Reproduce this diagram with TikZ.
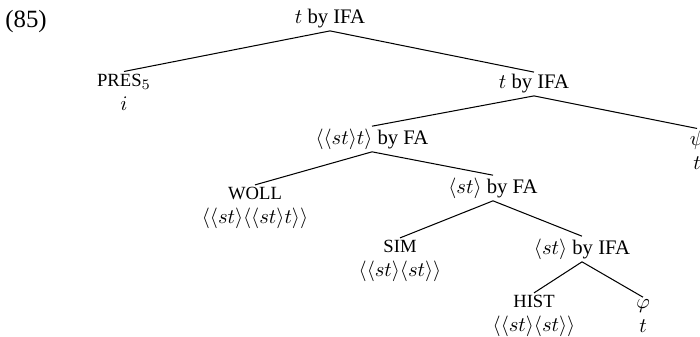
\documentclass[tikz,border=0pt]{standalone}
\usepackage{fontspec}
\setmainfont{Liberation Serif}
\usetikzlibrary{positioning}
\tikzset{
treenode/.style={
  inner sep=1pt,
  align=center,
  }
}
\tikzset{
treeline/.style={
  line width=0.5pt,
  }
}
\newcommand{\typ}[1]{\ensuremath{\langle #1\rangle}}
\newcommand{\lexname}[1]{{\small #1}}

\begin{document}
\begin{tikzpicture}[x=0.017cm,y=-0.017cm]
    \useasboundingbox (0,0) rectangle (700,336);
    % example number
    \node[font=\large] (exnum) at (26,22) {(85)};

    % top part
    \node[treenode] (root) at (330,19) {$t$ by IFA};
    \node[treenode] (pres) at (124,92) {\lexname{PRES}$_5$\\[-0.5pt]$i$};
    \node[treenode] (ifa1) at (534,84) {$t$ by IFA};
    \node[treenode] (psi) at (697,150) {$\psi$\\[-0.5pt]$t$};

    % middle part
    \node[treenode] (fa1) at (372,139) {\typ{\typ{st}t} by FA};
    \node[treenode] (woll) at (255,208) {\lexname{WOLL}\\[-0.5pt]\typ{\typ{st}\typ{\typ{st}t}}};
    \node[treenode] (fa2) at (493,188) {\typ{st} by FA};

    % bottom part
    \node[treenode] (sim) at (400,261) {\lexname{SIM}\\[-0.5pt]\typ{\typ{st}\typ{st}}};
    \node[treenode] (ifa2) at (582,249) {\typ{st} by IFA};
    \node[treenode] (hist) at (534,316) {\lexname{HIST}\\[-0.5pt]\typ{\typ{st}\typ{st}}};
    \node[treenode] (phi) at (643,316) {$\varphi$\\[-0.5pt]$t$};

    % tree edges
    \draw[treeline] (root.south) -- (pres.north);
    \draw[treeline] (root.south) -- (ifa1.north);
    \draw[treeline] (ifa1.south) -- (fa1.north);
    \draw[treeline] (ifa1.south) -- (psi.north);
    \draw[treeline] (fa1.south) -- (woll.north);
    \draw[treeline] (fa1.south) -- (fa2.north);
    \draw[treeline] (fa2.south) -- (sim.north);
    \draw[treeline] (fa2.south) -- (ifa2.north);
    \draw[treeline] (ifa2.south) -- (hist.north);
    \draw[treeline] (ifa2.south) -- (phi.north);
\end{tikzpicture}
\end{document}
